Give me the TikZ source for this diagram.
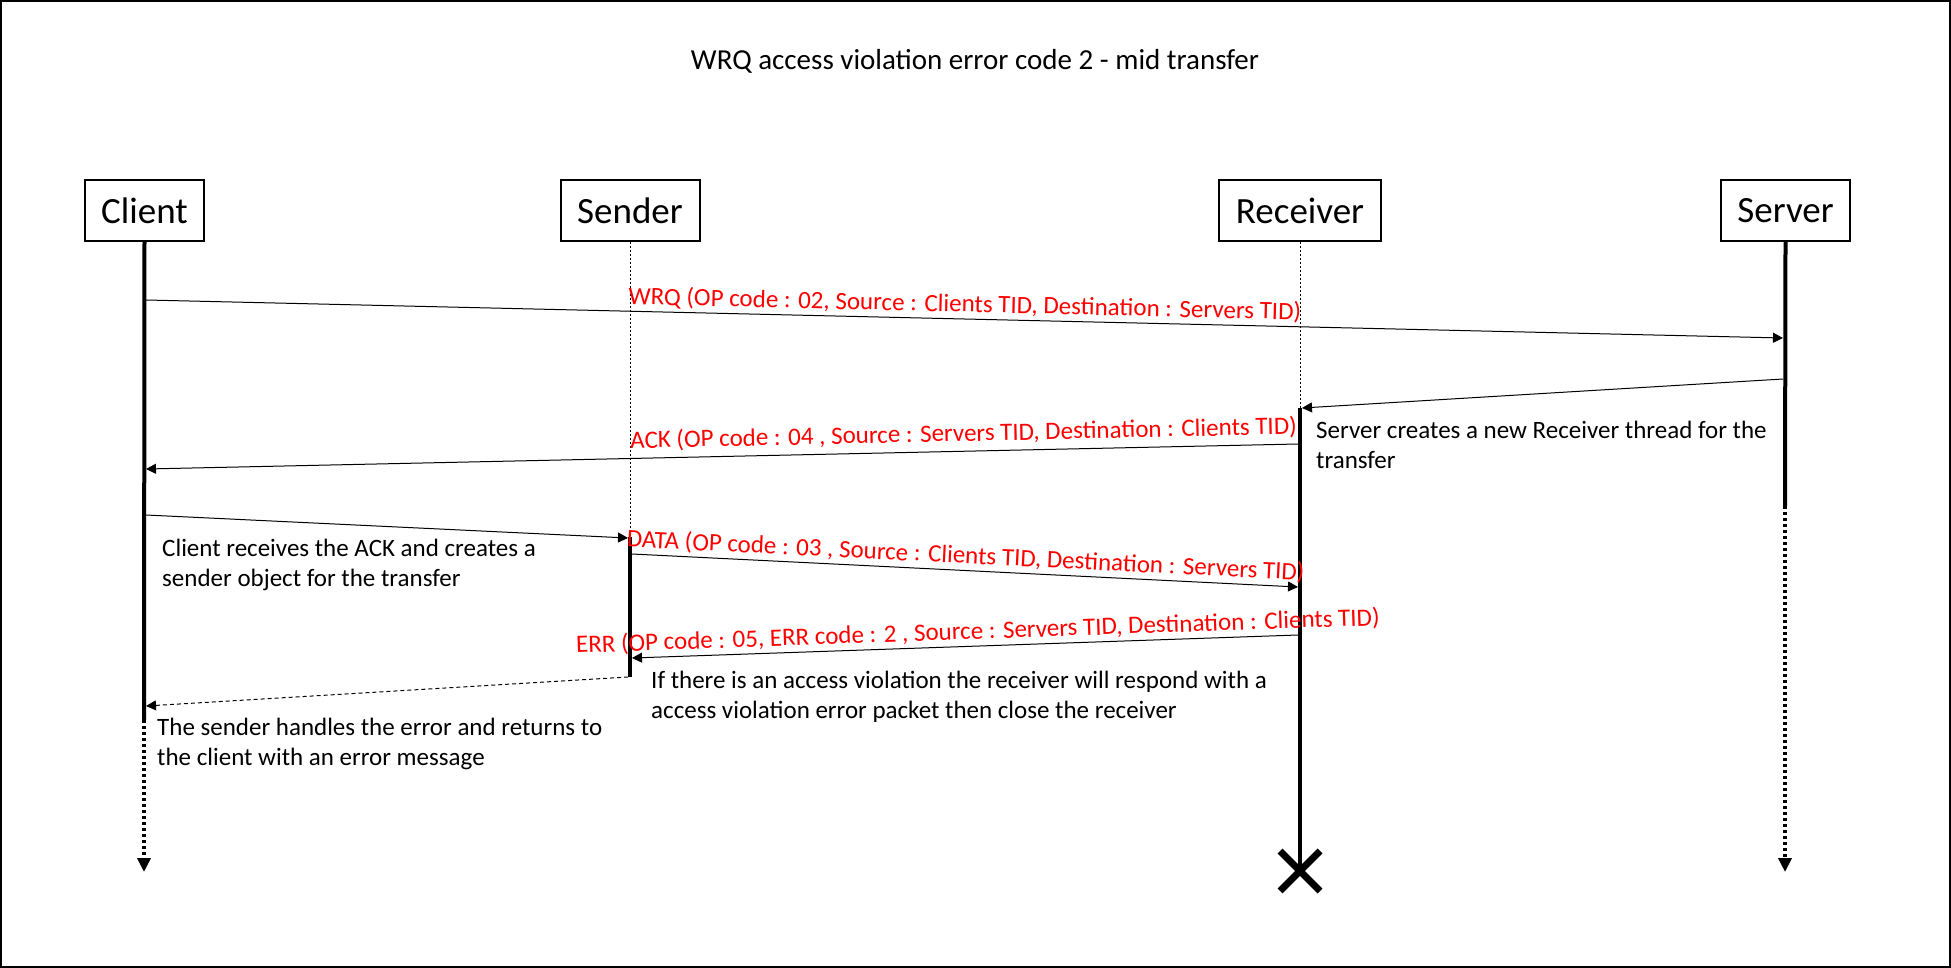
\documentclass[tikz,border=0pt]{standalone}
\usepackage{fontspec}
\setmainfont{Carlito}
\usetikzlibrary{arrows.meta}

\tikzset{
  actor/.style={draw, line width=2pt, minimum height=61pt, inner sep=0pt,
    font=\fontsize{37}{44}\selectfont},
  msg/.style={line width=1pt, -{Triangle[length=10pt,width=10pt]}},
  reply/.style={msg, dash pattern=on 4pt off 3pt},
  msglabel/.style={text=red, sloped, above, inner sep=3pt,
    font=\fontsize{25}{29}\selectfont},
  note/.style={align=left, anchor=west, inner sep=0pt,
    font=\fontsize{25}{30}\selectfont},
  life/.style={line width=4pt},
  lifedots/.style={line width=4pt, dash pattern=on 3pt off 3pt,
    -{Triangle[length=14pt,width=13pt]}},
  thinlife/.style={line width=1pt, dash pattern=on 2pt off 2pt},
}

\begin{document}
\begin{tikzpicture}[x=1pt,y=-1pt]

    \useasboundingbox (0,0) rectangle (1951,968);

    % frame
    \draw [line width=2pt] (1,1) rectangle (1950,967);

    % title
    \node (title) at (975,61) {\fontsize{29}{34}\selectfont WRQ access violation error code 2 - mid transfer};

    % participants
    \node [actor, minimum width=119pt] (client) at (144.5,210.5) {Client};
    \node [actor, minimum width=139pt] (sender) at (630,210.5) {Sender};
    \node [actor, minimum width=162pt] (receiver) at (1300,210.5) {Receiver};
    \node [actor, minimum width=129pt] (server) at (1785.5,210.5) {Server};

    % lifeline points
    \coordinate (clientEnd) at (144,720);
    \coordinate (clientDown) at (144,872);
    \coordinate (senderOn) at (630,537);
    \coordinate (senderOff) at (630,677);
    \coordinate (receiverOn) at (1300,408);
    \coordinate (receiverKill) at (1300,871);
    \coordinate (serverEnd) at (1785,506);
    \coordinate (serverDown) at (1785,872);

    % lifelines
    \draw [life] (client.south) -- (clientEnd);
    \draw [lifedots] (clientEnd) -- (clientDown);
    \draw [thinlife] (sender.south) -- (senderOn);
    \draw [life] (senderOn) -- (senderOff);
    \draw [thinlife] (receiver.south) -- (receiverOn);
    \draw [life] (receiverOn) -- (receiverKill);
    \draw [life] (server.south) -- (serverEnd);
    \draw [lifedots] (serverEnd) -- (serverDown);

    % receiver closed
    \draw [line width=7pt] ([shift={(-20,-20)}]receiverKill) -- ([shift={(20,20)}]receiverKill);
    \draw [line width=7pt] ([shift={(-20,20)}]receiverKill) -- ([shift={(20,-20)}]receiverKill);

    % message end points
    \coordinate (wrqFrom) at (146,300);
    \coordinate (wrqTo) at (1783,338);
    \coordinate (newFrom) at (1783,379);
    \coordinate (newTo) at (1302,408);
    \coordinate (ackFrom) at (1298,444);
    \coordinate (ackTo) at (146,469);
    \coordinate (objFrom) at (146,515);
    \coordinate (objTo) at (628,538);
    \coordinate (dataFrom) at (632,554);
    \coordinate (dataTo) at (1298,587);
    \coordinate (errFrom) at (1298,635);
    \coordinate (errTo) at (632,658);
    \coordinate (backFrom) at (628,677);
    \coordinate (backTo) at (146,706);

    % messages
    \draw [msg] (wrqFrom) -- (wrqTo)
      node [msglabel, pos=0.5] {WRQ (OP code : 02, Source : Clients TID, Destination : Servers TID)};
    \draw [msg] (newFrom) -- (newTo);
    \draw [msg] (ackFrom) -- (ackTo)
      node [msglabel, pos=0.29, inner sep=6pt] {ACK (OP code : 04 , Source : Servers TID, Destination : Clients TID)};
    \draw [msg] (objFrom) -- (objTo);
    \draw [msg] (dataFrom) -- (dataTo)
      node [msglabel, pos=0.5] {DATA (OP code : 03 , Source : Clients TID, Destination : Servers TID)};
    \draw [msg] (errFrom) -- (errTo)
      node [msglabel, pos=0.48] {ERR (OP code : 05, ERR code : 2 , Source : Servers TID, Destination : Clients TID)};
    \draw [reply] (backFrom) -- (backTo);

    % notes
    \node [note] (newNote) at (1316,445) {Server creates a new Receiver thread for the\\transfer};
    \node [note] (objNote) at (162,565) {Client receives the ACK and creates a\\sender object for the transfer};
    \node [note] (errNote) at (651,697) {If there is an access violation the receiver will respond with a\\access violation error packet then close the receiver};
    \node [note] (backNote) at (157,744) {The sender handles the error and returns to\\the client with an error message};

\end{tikzpicture}
\end{document}
